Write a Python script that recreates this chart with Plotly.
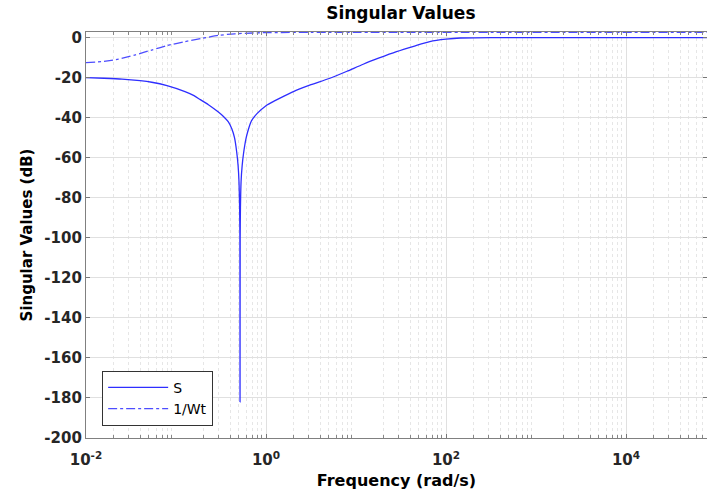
import plotly.graph_objects as go

# ---- data ----
# S: log10 of frequency (rad/s) and singular value (dB)
logw_S = [-2.0, -1.8, -1.6, -1.4, -1.27, -1.1, -0.9, -0.8, -0.73, -0.64, -0.54, -0.47,
          -0.42, -0.38, -0.35, -0.326, -0.31, -0.30, -0.293, -0.29, -0.2885,
          -0.287, -0.284, -0.277, -0.265, -0.25, -0.22, -0.19, -0.16, -0.1, 0.0,
          0.1, 0.2, 0.34, 0.5, 0.71, 0.9, 1.08, 1.25, 1.45, 1.65, 1.82, 2.0, 2.16,
          2.5, 3.0, 4.0, 5.0]
S_dB = [-20.0, -20.3, -20.7, -21.5, -22.3, -24.0, -27.0, -29.0, -31.0, -33.5, -36.8, -39.5,
        -42.0, -45.5, -50.0, -57.0, -64.0, -72.0, -85.0, -100.0, -182.0,
        -100.0, -85.0, -72.0, -64.0, -58.0, -50.0, -45.0, -41.5, -38.0, -34.0,
        -31.5, -29.2, -26.2, -23.5, -20.3, -16.8, -13.3, -10.3, -7.0, -4.2, -2.0, -0.8, -0.2,
        0.0, 0.0, 0.0, 0.0]

# 1/Wt
logw_Wt = [-2.0, -1.8, -1.64, -1.45, -1.27, -1.1, -0.9, -0.7, -0.53, -0.35, -0.15, 0.0, 0.5, 5.0]
Wt_dB = [-12.5, -11.9, -10.8, -8.6, -6.2, -4.0, -2.0, -0.3, 1.1, 1.9, 2.3, 2.5, 2.6, 2.6]

x_tickvals = [1e-2, 1e0, 1e2, 1e4]
x_ticktext = ["10<sup>-2</sup>", "10<sup>0</sup>", "10<sup>2</sup>", "10<sup>4</sup>"]
y_tickvals = [0, -20, -40, -60, -80, -100, -120, -140, -160, -180, -200]
y_ticktext = ["0", "-20", "-40", "-60", "-80", "-100", "-120", "-140", "-160", "-180", "-200"]

w_S = [10 ** v for v in logw_S]
w_Wt = [10 ** v for v in logw_Wt]
minor_x = [m * 10 ** e for e in range(-2, 5) for m in range(2, 10)]

FONT = "DejaVu Sans, Verdana, sans-serif"

fig = go.Figure()
fig.add_trace(go.Scatter(x=w_S, y=S_dB, mode="lines", name="S",
                         line=dict(color="#2e2eff", width=1.3, shape="spline", smoothing=0.6)))
fig.add_trace(go.Scatter(x=w_Wt, y=Wt_dB, mode="lines", name="1/Wt",
                         line=dict(color="#4d4dff", width=1.3, dash="dashdot",
                                   shape="spline", smoothing=0.6)))

fig.update_layout(
    width=707, height=499,
    margin=dict(l=86, r=0, t=32, b=61),
    paper_bgcolor="white", plot_bgcolor="white",
    title=dict(text="Singular Values", x=0.507, xref="paper", xanchor="center",
               y=0.985, yref="container", yanchor="top",
               font=dict(family=FONT, size=17, color="black", weight="bold")),
    legend=dict(x=0.026, y=0.030, xanchor="left", yanchor="bottom",
                bgcolor="white", bordercolor="#333333", borderwidth=1,
                font=dict(family=FONT, size=14, color="black"),
                tracegroupgap=0, itemwidth=60),
    showlegend=True,
)

fig.update_xaxes(
    type="log", range=[-2, 4.9],
    tickmode="array", tickvals=x_tickvals, ticktext=x_ticktext,
    tickfont=dict(family=FONT, size=15, color="#262626", weight="bold"),
    ticks="inside", ticklen=4, tickcolor="#777777", ticklabelstandoff=8,
    showline=True, linecolor="#808080", linewidth=1.2, mirror="ticks",
    showgrid=True, gridcolor="#e0e0e0", gridwidth=1,
    minor=dict(tickmode="array", tickvals=minor_x, ticks="inside", ticklen=3,
               tickcolor="#888888", showgrid=True, gridcolor="#e6e6e6",
               griddash="dot", gridwidth=1),
    title=dict(text="Frequency (rad/s)", standoff=6,
               font=dict(family=FONT, size=16, color="black", weight="bold")),
    zeroline=False,
)
fig.update_yaxes(
    range=[-200, 2.8],
    tickmode="array", tickvals=y_tickvals, ticktext=y_ticktext,
    tickfont=dict(family=FONT, size=15, color="#262626", weight="bold"),
    ticks="inside", ticklen=4, tickcolor="#777777",
    showline=True, linecolor="#808080", linewidth=1.2, mirror="ticks",
    showgrid=True, gridcolor="#e0e0e0", gridwidth=1,
    title=dict(text="Singular Values (dB)", standoff=8,
               font=dict(family=FONT, size=15, color="black", weight="bold")),
    zeroline=False,
)

fig.write_html("out.html")
